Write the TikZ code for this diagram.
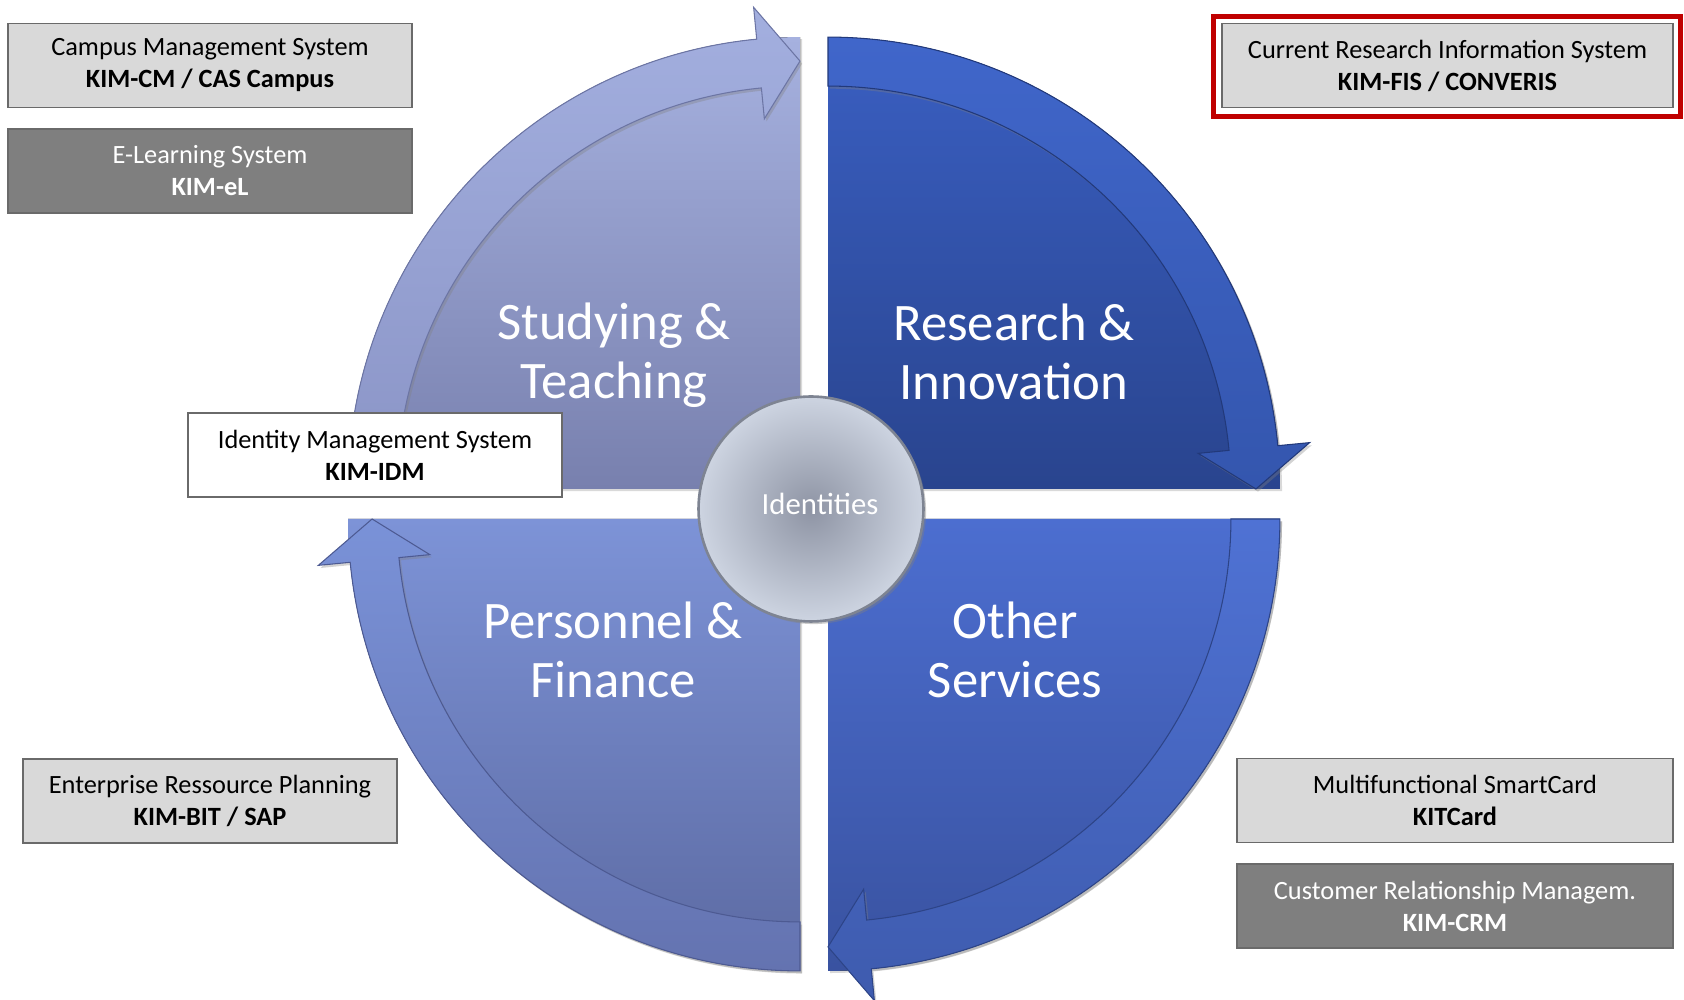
\documentclass[tikz,border=0pt]{standalone}
\usepackage{fontspec}
\setmainfont{Carlito}
\usetikzlibrary{shadows}

\definecolor{tlTop}{HTML}{A6B1DF}
\definecolor{tlBot}{HTML}{7880AE}
\definecolor{tlBandTop}{HTML}{A3AFDF}
\definecolor{tlBandBot}{HTML}{8A94C6}
\definecolor{tlLine}{HTML}{6C75A4}
\definecolor{trTop}{HTML}{3A5FC2}
\definecolor{trBot}{HTML}{29448E}
\definecolor{trBandTop}{HTML}{4066CA}
\definecolor{trBandBot}{HTML}{3456AE}
\definecolor{trLine}{HTML}{22397A}
\definecolor{blTop}{HTML}{7D93D7}
\definecolor{blBot}{HTML}{5C6AA2}
\definecolor{blBandTop}{HTML}{7A92D8}
\definecolor{blBandBot}{HTML}{6473B0}
\definecolor{blLine}{HTML}{4D5A92}
\definecolor{brTop}{HTML}{4C6ED0}
\definecolor{brBot}{HTML}{3952A0}
\definecolor{brBandTop}{HTML}{4F72D4}
\definecolor{brBandBot}{HTML}{3E5BAE}
\definecolor{brLine}{HTML}{2D4487}
\definecolor{hubIn}{HTML}{8E94A4}
\definecolor{hubOut}{HTML}{CDD4E1}
\definecolor{hubLine}{HTML}{7E8492}
\definecolor{boxLight}{HTML}{D9D9D9}
\definecolor{boxDark}{HTML}{7F7F7F}
\definecolor{boxLine}{HTML}{6A6A6A}
\definecolor{frameRed}{HTML}{C00000}

\def\rOut{9.04cm}
\def\rIn{8.06cm}
\def\rMid{8.56cm}
\def\rBo{9.68cm}
\def\rBi{7.44cm}

\tikzset{
	sector/.style={drop shadow={shadow xshift=1.2pt, shadow yshift=-1.2pt, opacity=0.3}},
	band/.style={line width=0.6pt, drop shadow={shadow xshift=1.2pt, shadow yshift=-1.5pt, opacity=0.35}},
	field/.style={text=white, align=center, font=\fontsize{30}{33.6}\selectfont},
	hub/.style={circle, minimum size=4.5cm, inner sep=0pt, draw=hubLine, line width=1.5pt, inner color=hubIn, outer color=hubOut, drop shadow={shadow xshift=1.5pt, shadow yshift=-1.5pt, opacity=0.4}},
	hubtext/.style={text=white, font=\fontsize{17.5}{20}\selectfont},
	sysbox/.style={draw=boxLine, line width=0.8pt, minimum height=1.68cm, inner sep=0pt, align=center, font=\fontsize{15}{18.2}\selectfont},
	lightbox/.style={sysbox, fill=boxLight, text=black},
	darkbox/.style={sysbox, fill=boxDark, text=white},
	whitebox/.style={sysbox, fill=white, text=black},
	redframe/.style={draw=frameRed, line width=2.8pt},
}

\begin{document}
\begin{tikzpicture}[x=0.02cm, y=0.02cm]
	\useasboundingbox (0,0) rectangle (1684,1000);

	\begin{scope}[shift={(800,511)}]
		\fill[sector, top color=tlTop, bottom color=tlBot] (0,0) -- (180:\rOut) arc[start angle=180, end angle=90, radius=\rOut] -- cycle;
		\path[band, draw=tlLine, top color=tlBandTop, bottom color=tlBandBot] (180:\rOut) arc[start angle=180, end angle=95.5, radius=\rOut] -- (95.5:\rBo) -- (90:\rMid) -- (95.5:\rBi) -- (95.5:\rIn) arc[start angle=95.5, end angle=180, radius=\rIn] -- cycle;
	\end{scope}

	\begin{scope}[shift={(828,511)}]
		\fill[sector, top color=trTop, bottom color=trBot] (0,0) -- (90:\rOut) arc[start angle=90, end angle=0, radius=\rOut] -- cycle;
		\path[band, draw=trLine, top color=trBandTop, bottom color=trBandBot] (90:\rOut) arc[start angle=90, end angle=5.5, radius=\rOut] -- (5.5:\rBo) -- (0:\rMid) -- (5.5:\rBi) -- (5.5:\rIn) arc[start angle=5.5, end angle=90, radius=\rIn] -- cycle;
	\end{scope}

	\begin{scope}[shift={(828,481)}]
		\fill[sector, top color=brTop, bottom color=brBot] (0,0) -- (0:\rOut) arc[start angle=0, end angle=-90, radius=\rOut] -- cycle;
		\path[band, draw=brLine, top color=brBandTop, bottom color=brBandBot] (0:\rOut) arc[start angle=0, end angle=-84.5, radius=\rOut] -- (-84.5:\rBo) -- (-90:\rMid) -- (-84.5:\rBi) -- (-84.5:\rIn) arc[start angle=-84.5, end angle=0, radius=\rIn] -- cycle;
	\end{scope}

	\begin{scope}[shift={(800,481)}]
		\fill[sector, top color=blTop, bottom color=blBot] (0,0) -- (-90:\rOut) arc[start angle=-90, end angle=-180, radius=\rOut] -- cycle;
		\path[band, draw=blLine, top color=blBandTop, bottom color=blBandBot] (-90:\rOut) arc[start angle=-90, end angle=-174.5, radius=\rOut] -- (-174.5:\rBo) -- (-180:\rMid) -- (-174.5:\rBi) -- (-174.5:\rIn) arc[start angle=-174.5, end angle=-90, radius=\rIn] -- cycle;
	\end{scope}

	\node[field] (study) at (614,645) {Studying \&\\Teaching};
	\node[field] (research) at (1014,648) {Research \&\\Innovation};
	\node[field] (personnel) at (613,350) {Personnel \&\\Finance};
	\node[field] (other) at (1015,350) {Other\\Services};

	\node[hub] (ident) at (811,491) {};
	\node[hubtext] (identtext) at (820,496) {Identities};

	\node[lightbox, minimum width=8.08cm] (cms) at (210,934.5) {Campus Management System\\\textbf{KIM-CM / CAS Campus}};
	\node[darkbox, minimum width=8.08cm] (elearn) at (210,829) {E-Learning System\\\textbf{KIM-eL}};
	\node[whitebox, minimum width=7.48cm] (idm) at (375,545) {Identity Management System\\\textbf{KIM-IDM}};
	\node[lightbox, minimum width=9.02cm] (cris) at (1447.5,934.5) {Current Research Information System\\\textbf{KIM-FIS / CONVERIS}};
	\draw[redframe] ([shift={(-8,-8)}]cris.south west) rectangle ([shift={(7,6)}]cris.north east);
	\node[lightbox, minimum width=7.48cm] (erp) at (210,199) {Enterprise Ressource Planning\\\textbf{KIM-BIT / SAP}};
	\node[lightbox, minimum width=8.72cm] (card) at (1455,199.5) {Multifunctional SmartCard\\\textbf{KITCard}};
	\node[darkbox, minimum width=8.72cm] (crm) at (1455,94) {Customer Relationship Managem.\\\textbf{KIM-CRM}};
\end{tikzpicture}
\end{document}
